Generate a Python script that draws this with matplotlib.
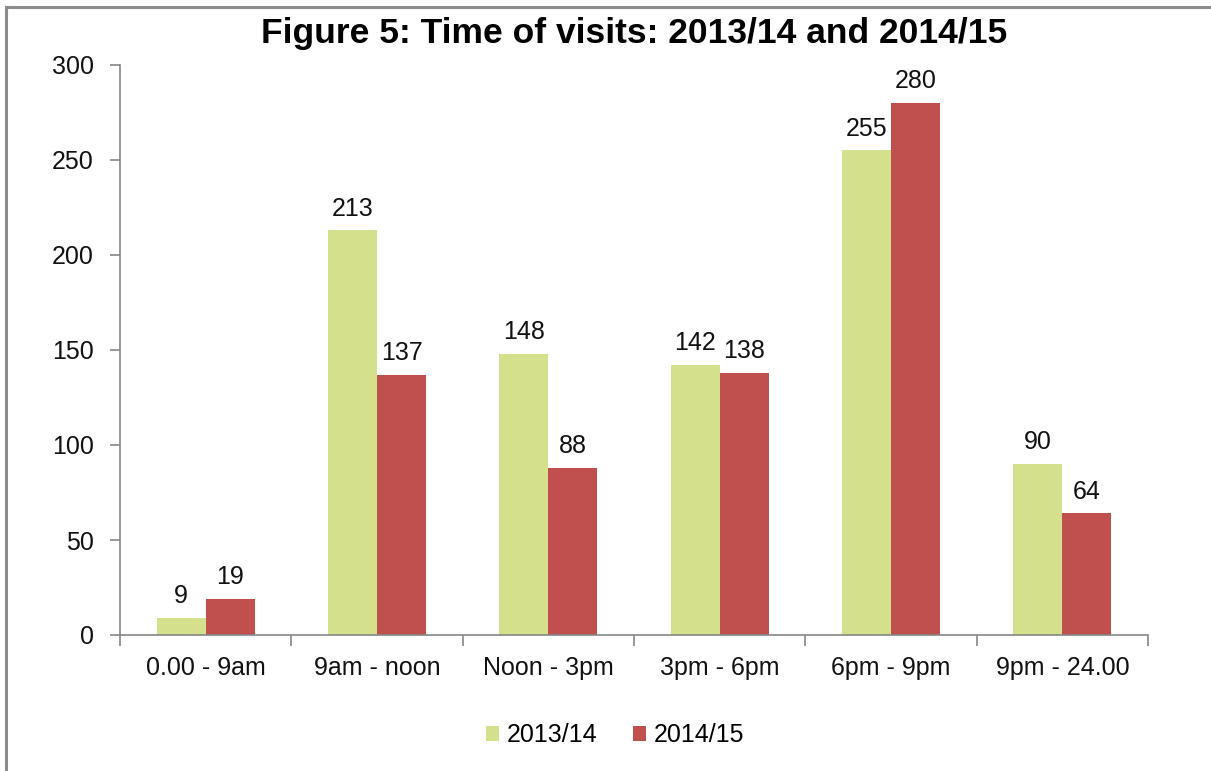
import matplotlib
matplotlib.use("Agg")
import matplotlib.pyplot as plt
import numpy as np
from matplotlib.lines import Line2D

categories = ["0.00 - 9am", "9am - noon", "Noon - 3pm", "3pm - 6pm", "6pm - 9pm", "9pm - 24.00"]
series_names = ["2013/14", "2014/15"]
values_1314 = [9, 213, 148, 142, 255, 90]
values_1415 = [19, 137, 88, 138, 280, 64]
yticks = [0, 50, 100, 150, 200, 250, 300]

colors = ["#D4E08C", "#C0504D"]

plt.rcParams['font.family'] = ['Liberation Sans', 'DejaVu Sans']

fig = plt.figure(figsize=(12.11, 7.71), dpi=100)
ax = fig.add_axes([120/1211, 1 - 635/771, (1148-120)/1211, (635-65)/771])

x = np.arange(len(categories))
w = 0.286
b1 = ax.bar(x - w/2, values_1314, w, color=colors[0], label=series_names[0], zorder=2)
b2 = ax.bar(x + w/2, values_1415, w, color=colors[1], label=series_names[1], zorder=2)

for bars, vals in ((b1, values_1314), (b2, values_1415)):
    for rect, v in zip(bars, vals):
        ax.annotate(str(v), (rect.get_x() + rect.get_width()/2, v),
                    xytext=(0, 7), textcoords="offset points",
                    ha="center", va="bottom", fontsize=18, color="#111111")

ax.set_xlim(-0.5, len(categories) - 0.5)
ax.set_ylim(0, 300)
ax.set_yticks(yticks)
ax.set_yticklabels([str(t) for t in yticks])
ax.set_xticks(x)
ax.set_xticklabels(categories)
ax.tick_params(axis='x', length=0, labelsize=18, pad=15, colors="#111111")
ax.tick_params(axis='y', length=7, width=1.2, color="#868686", labelsize=18, pad=12, labelcolor="#111111")
# category boundary ticks
ax.set_xticks(np.arange(-0.5, len(categories)), minor=True)
ax.tick_params(axis='x', which='minor', length=8, width=1.2, color="#868686")

for s in ("top", "right"):
    ax.spines[s].set_visible(False)
for s in ("left", "bottom"):
    ax.spines[s].set_color("#868686")
    ax.spines[s].set_linewidth(1.2)

fig.text(634/1211, 1 - 33/771, "Figure 5: Time of visits: 2013/14 and 2014/15",
         ha="center", va="center", fontsize=25.5, fontweight="bold", color="#000000")

leg = fig.legend(handles=[b1, b2], labels=series_names, loc="center",
                 bbox_to_anchor=(615/1211, 1 - 735/771), ncol=2, frameon=False,
                 fontsize=18, handlelength=0.55, handleheight=0.55, handletextpad=0.3,
                 columnspacing=1.4)

# figure border (top and left)
fig.add_artist(Line2D([6/1211, 1], [1 - 7/771, 1 - 7/771], transform=fig.transFigure,
                      color="#8C8C8C", linewidth=2.2))
fig.add_artist(Line2D([6/1211, 6/1211], [0, 1 - 7/771], transform=fig.transFigure,
                      color="#8C8C8C", linewidth=2.2))

fig.savefig("out.png", dpi=100, facecolor="white")
